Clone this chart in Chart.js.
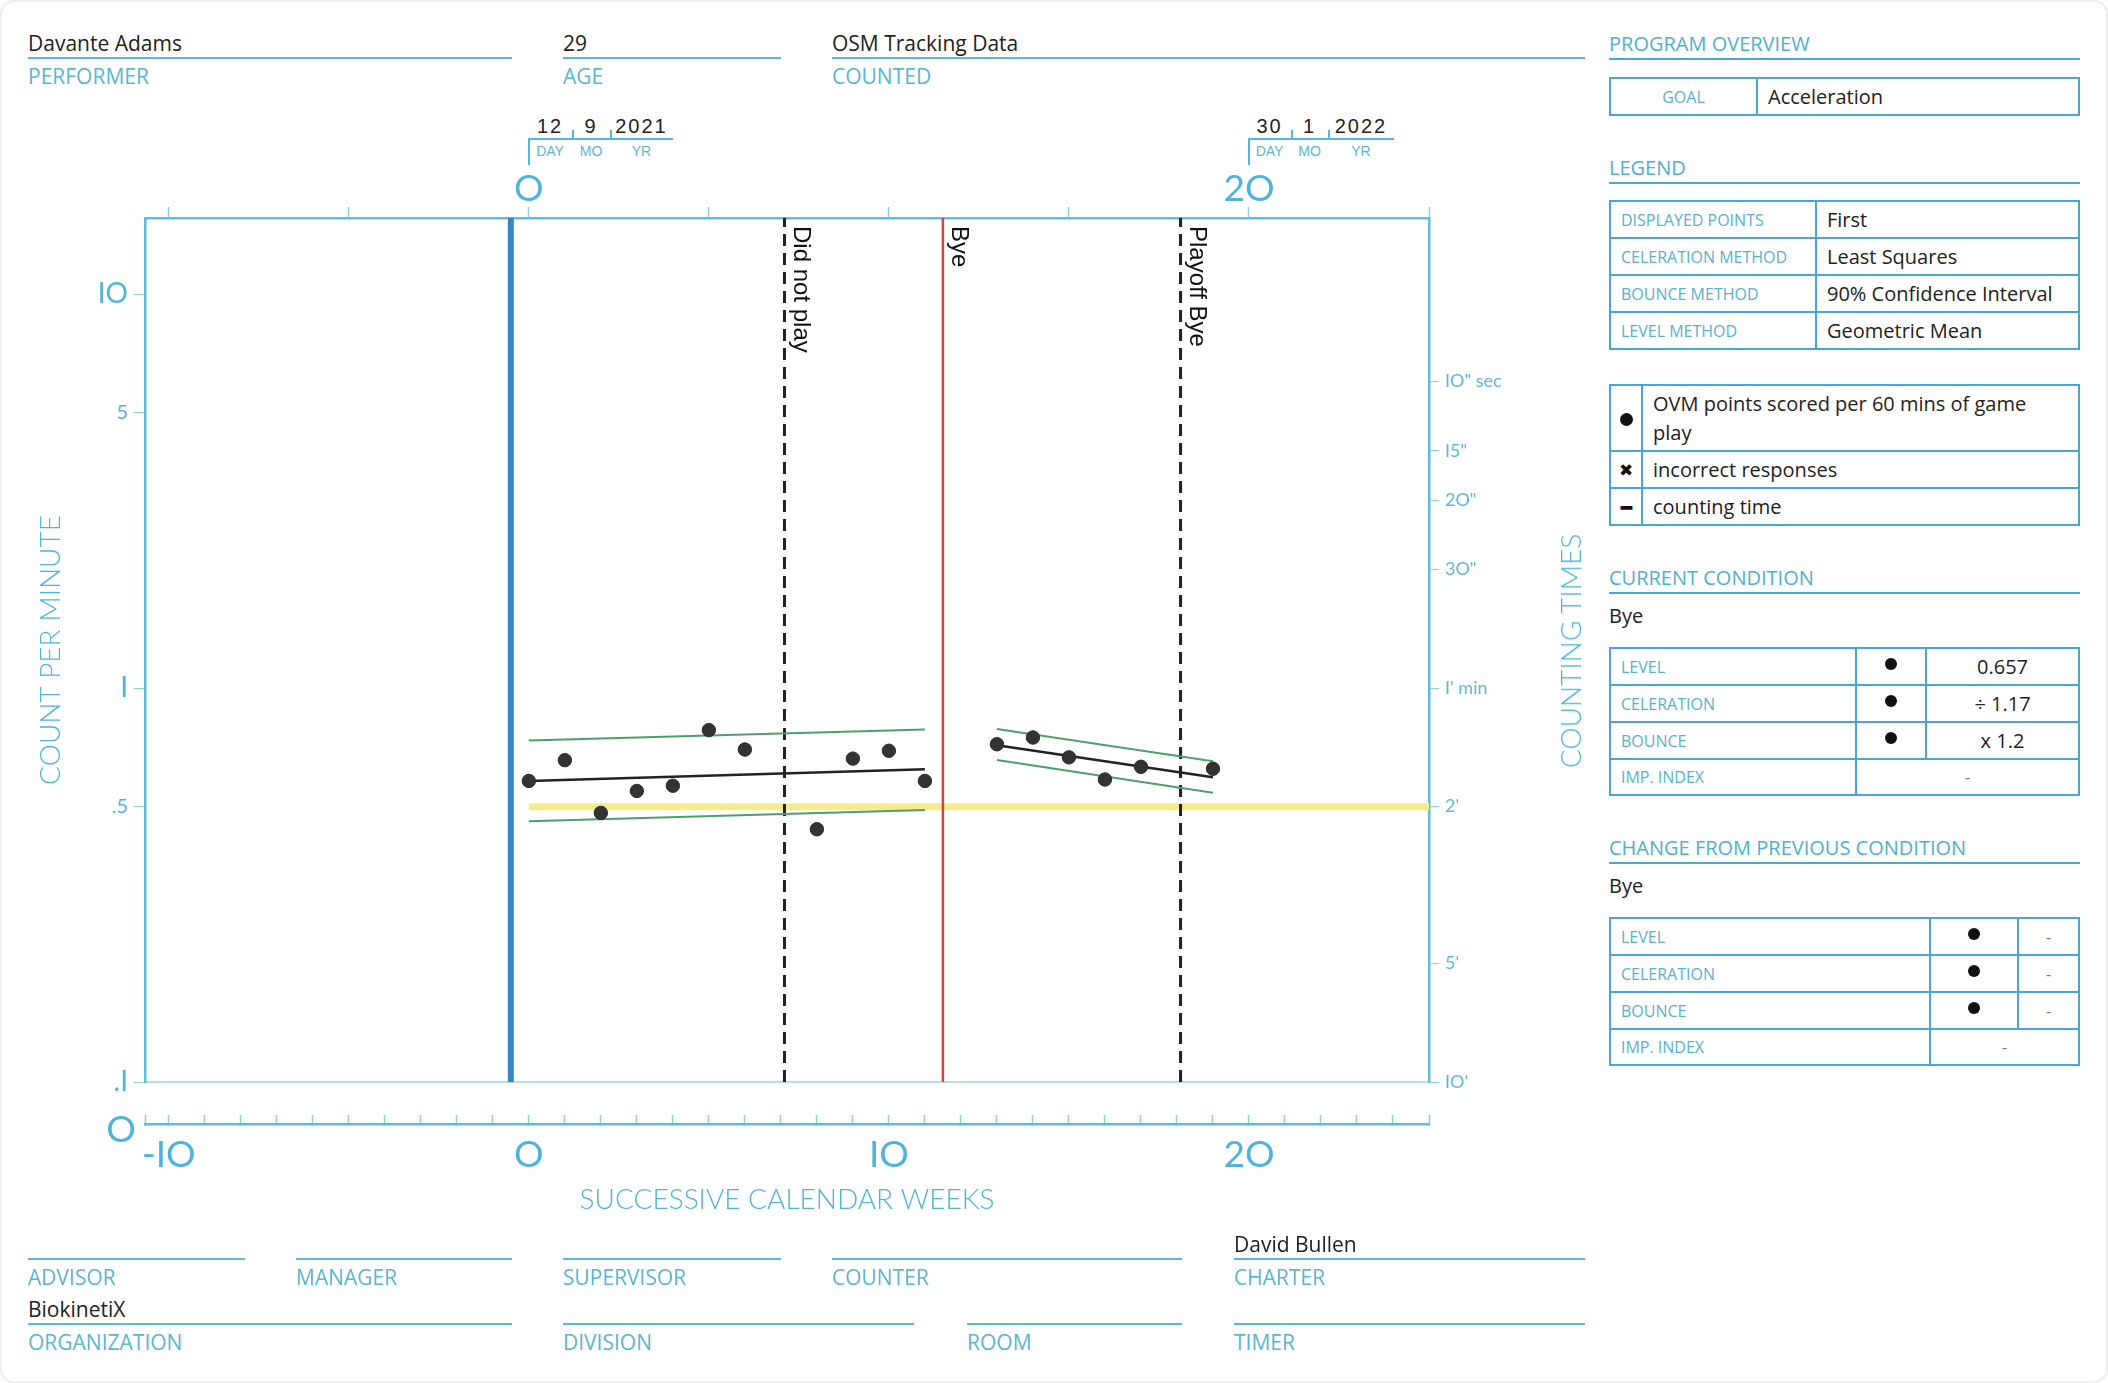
<!DOCTYPE html>
<html>
<head>
<meta charset="utf-8">
<script src="https://cdn.jsdelivr.net/npm/chart.js@4.4.1/dist/chart.umd.min.js"></script>
<style>
  body { margin:0; width:2108px; height:1383px; background:#fff; position:relative; overflow:hidden; font-family:'Open Sans', sans-serif; }
  .frame { position:absolute; left:0; top:0; width:2104px; height:1379px; border:2px solid #efefef; border-radius:14px; }
  .field { position:absolute; }
  .field .val { height:28px; line-height:28px; font-size:21px; color:#222; border-bottom:2px solid #5ab8d8; white-space:nowrap; }
  .field .lab { margin-top:3px; line-height:28px; font-size:21px; color:#5ab6d2; }
  .head { position:absolute; left:1609px; width:471px; height:28px; line-height:28px; font-size:20px; color:#4fb0d0; border-bottom:2px solid #4aa8d6; }
  .bye { position:absolute; left:1609px; font-size:20px; line-height:28px; color:#222; }
  table.box { position:absolute; left:1609px; width:471px; border-collapse:collapse; table-layout:fixed; }
  table.box td { border:2px solid #4aa5d6; padding:0 10px; font-size:20px; color:#222; white-space:nowrap; }
  table.box td.k { font-size:16px; color:#58b2cf; }
  table.box td.c { text-align:center; }
  table.box td.sym { text-align:center; padding:0; color:#111; }
  table.box td.dot { text-align:center; vertical-align:top; padding-top:9px; line-height:0; }
  table.box td.dash { text-align:center; color:#777; font-size:16px; }
  .pt { display:inline-block; width:12px; height:12px; border-radius:50%; background:#111; }
  .date { position:absolute; display:flex; }
  .date::after { content:''; position:absolute; left:0; top:24px; width:2px; height:27px; background:#5ab6d8; }
  .date .cell { position:relative; }
  .date .cell.sep::before { content:''; position:absolute; left:0; top:16px; width:2px; height:9px; background:#5ab6d8; }
  .date .num { height:24px; line-height:24px; font-family:'Liberation Sans', Arial, sans-serif; font-size:20px; letter-spacing:2px; text-align:center; color:#222; }
  .date .unit { border-top:2px solid #5ab6d8; font-family:'Liberation Sans', Arial, sans-serif; font-size:14px; line-height:22px; text-align:center; color:#5ab6d8; }
  .axisword { position:absolute; font-family:Lato, sans-serif; font-weight:300; color:#4fb4da; white-space:nowrap; }
  #chart { position:absolute; left:0; top:150px; }
</style>
</head>
<body>
<div class="frame"></div>

<div class="field" style="left:28px;top:29px;width:484px"><div class="val">Davante Adams</div><div class="lab">PERFORMER</div></div>
<div class="field" style="left:563px;top:29px;width:218px"><div class="val">29</div><div class="lab">AGE</div></div>
<div class="field" style="left:832px;top:29px;width:753px"><div class="val">OSM Tracking Data</div><div class="lab">COUNTED</div></div>

<div class="date" style="left:528px;top:114px">
  <div class="cell" style="width:44px"><div class="num">12</div><div class="unit">DAY</div></div>
  <div class="cell sep" style="width:38px"><div class="num">9</div><div class="unit">MO</div></div>
  <div class="cell sep" style="width:63px"><div class="num">2021</div><div class="unit">YR</div></div>
</div>
<div class="date" style="left:1248px;top:114px">
  <div class="cell" style="width:43px"><div class="num">30</div><div class="unit">DAY</div></div>
  <div class="cell sep" style="width:37px"><div class="num">1</div><div class="unit">MO</div></div>
  <div class="cell sep" style="width:66px"><div class="num">2022</div><div class="unit">YR</div></div>
</div>

<canvas id="chart" width="1600" height="1084"></canvas>

<div class="axisword" style="left:1570px;top:651px;font-size:28px;transform:translate(-50%,-50%) rotate(-90deg)">COUNTING TIMES</div>
<div class="axisword" style="left:121px;top:1127px;font-size:37px;font-weight:400;transform:translate(-50%,-50%)">O</div>

<div class="head" style="top:30px">PROGRAM OVERVIEW</div>
<table class="box" style="top:77px">
  <colgroup><col style="width:147px"><col></colgroup>
  <tr style="height:37px"><td class="k c">GOAL</td><td>Acceleration</td></tr>
</table>

<div class="head" style="top:154px">LEGEND</div>
<table class="box" style="top:200px">
  <colgroup><col style="width:206px"><col></colgroup>
  <tr style="height:37px"><td class="k">DISPLAYED POINTS</td><td>First</td></tr>
  <tr style="height:37px"><td class="k">CELERATION METHOD</td><td>Least Squares</td></tr>
  <tr style="height:37px"><td class="k">BOUNCE METHOD</td><td>90% Confidence Interval</td></tr>
  <tr style="height:37px"><td class="k">LEVEL METHOD</td><td>Geometric Mean</td></tr>
</table>

<table class="box" style="top:384px">
  <colgroup><col style="width:32px"><col></colgroup>
  <tr style="height:66px"><td class="sym"><span class="pt" style="width:13px;height:13px"></span></td><td style="line-height:29px">OVM points scored per 60 mins of game<br>play</td></tr>
  <tr style="height:37px"><td class="sym" style="font-size:17px">&#10006;</td><td>incorrect responses</td></tr>
  <tr style="height:37px"><td class="sym" style="font-size:18px;font-weight:bold">&#9473;</td><td>counting time</td></tr>
</table>

<div class="head" style="top:564px">CURRENT CONDITION</div>
<div class="bye" style="top:602px">Bye</div>
<table class="box" style="top:647px">
  <colgroup><col style="width:246px"><col style="width:70px"><col></colgroup>
  <tr style="height:37px"><td class="k">LEVEL</td><td class="dot"><span class="pt"></span></td><td class="c">0.657</td></tr>
  <tr style="height:37px"><td class="k">CELERATION</td><td class="dot"><span class="pt"></span></td><td class="c">&divide; 1.17</td></tr>
  <tr style="height:37px"><td class="k">BOUNCE</td><td class="dot"><span class="pt"></span></td><td class="c">x 1.2</td></tr>
  <tr style="height:36px"><td class="k">IMP. INDEX</td><td class="dash" colspan="2">-</td></tr>
</table>

<div class="head" style="top:834px">CHANGE FROM PREVIOUS CONDITION</div>
<div class="bye" style="top:872px">Bye</div>
<table class="box" style="top:917px">
  <colgroup><col style="width:320px"><col style="width:88px"><col></colgroup>
  <tr style="height:37px"><td class="k">LEVEL</td><td class="dot"><span class="pt"></span></td><td class="dash">-</td></tr>
  <tr style="height:37px"><td class="k">CELERATION</td><td class="dot"><span class="pt"></span></td><td class="dash">-</td></tr>
  <tr style="height:37px"><td class="k">BOUNCE</td><td class="dot"><span class="pt"></span></td><td class="dash">-</td></tr>
  <tr style="height:36px"><td class="k">IMP. INDEX</td><td class="dash" colspan="2">-</td></tr>
</table>

<div class="field" style="left:28px;top:1230px;width:217px"><div class="val"></div><div class="lab">ADVISOR</div></div>
<div class="field" style="left:296px;top:1230px;width:216px"><div class="val"></div><div class="lab">MANAGER</div></div>
<div class="field" style="left:563px;top:1230px;width:218px"><div class="val"></div><div class="lab">SUPERVISOR</div></div>
<div class="field" style="left:832px;top:1230px;width:350px"><div class="val"></div><div class="lab">COUNTER</div></div>
<div class="field" style="left:1234px;top:1230px;width:351px"><div class="val">David Bullen</div><div class="lab">CHARTER</div></div>
<div class="field" style="left:28px;top:1295px;width:484px"><div class="val">BiokinetiX</div><div class="lab">ORGANIZATION</div></div>
<div class="field" style="left:563px;top:1295px;width:351px"><div class="val"></div><div class="lab">DIVISION</div></div>
<div class="field" style="left:967px;top:1295px;width:215px"><div class="val"></div><div class="lab">ROOM</div></div>
<div class="field" style="left:1234px;top:1295px;width:351px"><div class="val"></div><div class="lab">TIMER</div></div>

<script>
// weekly counts (count per minute)
const phase1Weeks = [0, 1, 2, 3, 4, 5, 6, 8, 9, 10, 11];
const phase1Counts = [0.581, 0.656, 0.482, 0.548, 0.565, 0.782, 0.698, 0.438, 0.662, 0.693, 0.581];
const phase2Weeks = [13, 14, 15, 16, 17, 19];
const phase2Counts = [0.720, 0.749, 0.667, 0.586, 0.631, 0.624];

// celeration + bounce lines (start / end of each phase)
const phase1LineWeeks = [0, 11];
const phase1Celeration = [0.581, 0.622];
const phase1Upper = [0.736, 0.785];
const phase1Lower = [0.459, 0.490];
const phase2LineWeeks = [13, 19];
const phase2Celeration = [0.716, 0.594];
const phase2Upper = [0.787, 0.652];
const phase2Lower = [0.657, 0.542];

// counting time floor (2 min)
const countingTimeWeeks = [0, 25];
const countingTime = [0.5, 0.5];

// phase change lines
const eventWeeks = [-0.5, 7.1, 11.5, 18.1];
const eventLabels = ['', 'Did not play', 'Bye', 'Playoff Bye'];

const weekMin = -10.66;
const weekMax = 25;
const countMin = 0.1;
const countMax = 15.6;

const countTicks = [0.1, 0.5, 1, 5, 10];
const countTickLabels = ['.I', '.5', 'I', '5', 'IO'];
const timeTicks = [0.1, 0.2, 0.5, 1, 2, 3, 4, 6];
const timeTickLabels = ["IO'", "5'", "2'", "I' min", '3O"', '2O"', 'I5"', 'IO" sec'];
const weekTicks = [-10, -9, -8, -7, -6, -5, -4, -3, -2, -1, 0, 1, 2, 3, 4, 5, 6, 7, 8, 9, 10, 11, 12, 13, 14, 15, 16, 17, 18, 19, 20, 21, 22, 23, 24, 25];
const weekLabelValues = [-10, 0, 10, 20];
const weekLabelTexts = ['-IO', 'O', 'IO', '2O'];
const topTicks = [-10, -5, 0, 5, 10, 15, 20, 25];
const topLabelValues = [0, 20];
const topLabelTexts = ['O', '2O'];

const blue = '#4fb4da';
const axisLine = '#62bcdc';
const tickLine = '#8fcfe3';

const pts = (xs, ys) => xs.map((x, i) => ({x: x, y: ys[i]}));

const eventStyles = [
  {color: '#3a86c4', width: 6, dash: []},
  {color: '#222', width: 3, dash: [12, 7]},
  {color: '#d8413d', width: 2.5, dash: []},
  {color: '#222', width: 3, dash: [12, 7]}
];

const lineSet = (data, color, width, order, dash) => ({
  data: data, showLine: true, pointRadius: 0, borderColor: color,
  borderWidth: width, borderDash: dash || [], order: order, fill: false
});

const datasets = [
  lineSet(pts(countingTimeWeeks, countingTime), '#f6ec8e', 7, 9),
  lineSet(pts(phase1LineWeeks, phase1Upper), '#4f9e6e', 2, 4),
  lineSet(pts(phase1LineWeeks, phase1Lower), '#4f9e6e', 2, 4),
  lineSet(pts(phase2LineWeeks, phase2Upper), '#4f9e6e', 2, 4),
  lineSet(pts(phase2LineWeeks, phase2Lower), '#4f9e6e', 2, 4),
  lineSet(pts(phase1LineWeeks, phase1Celeration), '#222', 2.5, 2),
  lineSet(pts(phase2LineWeeks, phase2Celeration), '#222', 2.5, 2)
];
eventWeeks.forEach((w, i) => {
  datasets.push(lineSet(pts([w, w], [countMin, countMax]), eventStyles[i].color, eventStyles[i].width, 6, eventStyles[i].dash));
});
[pts(phase1Weeks, phase1Counts), pts(phase2Weeks, phase2Counts)].forEach(d => {
  datasets.push({data: d, pointRadius: 6.7, backgroundColor: '#333', borderColor: '#2a2a2a', borderWidth: 1, order: 0});
});

const eventLabelPlugin = {
  id: 'eventLabels',
  afterDatasetsDraw(chart) {
    const {ctx, chartArea, scales} = chart;
    ctx.save();
    ctx.font = '24px "Liberation Sans", Arial, sans-serif';
    ctx.fillStyle = '#111';
    ctx.textAlign = 'left';
    ctx.textBaseline = 'bottom';
    eventWeeks.forEach((w, i) => {
      if (!eventLabels[i]) return;
      const px = scales.x.getPixelForValue(w);
      ctx.save();
      ctx.translate(px + 4, chartArea.top + 8);
      ctx.rotate(Math.PI / 2);
      ctx.fillText(eventLabels[i], 0, 0);
      ctx.restore();
    });
    ctx.restore();
  }
};

const axisFont = (size, weight) => ({family: 'Lato', weight: weight || 400, size: size});
const pick = (values, texts) => v => {
  const i = values.indexOf(v);
  return i >= 0 ? texts[i] : '';
};

new Chart(document.getElementById('chart'), {
  type: 'scatter',
  data: {datasets: datasets},
  plugins: [eventLabelPlugin],
  options: {
    responsive: false,
    animation: false,
    layout: {padding: 0},
    plugins: {legend: {display: false}, tooltip: {enabled: false}},
    scales: {
      x: {
        type: 'linear', position: 'bottom', min: weekMin, max: weekMax, weight: 0,
        ticks: {display: false},
        grid: {drawOnChartArea: false, drawTicks: false},
        border: {color: '#b5e0ea', width: 2},
        afterFit: s => { s.height = 42; }
      },
      xw: {
        type: 'linear', position: 'bottom', min: weekMin, max: weekMax, weight: 1,
        afterBuildTicks: s => { s.ticks = [weekMin].concat(weekTicks).map(v => ({value: v})); },
        ticks: {autoSkip: false, maxRotation: 0, padding: 18, color: blue, font: axisFont(37),
          callback: pick(weekLabelValues, weekLabelTexts)},
        grid: {drawOnChartArea: false, tickLength: -9, color: tickLine, tickWidth: 1.5},
        border: {color: axisLine, width: 2.5},
        title: {display: true, text: 'SUCCESSIVE CALENDAR WEEKS', color: blue, font: axisFont(28, 300), padding: {bottom: 17}},
        afterFit: s => { s.height = 110; }
      },
      x2: {
        type: 'linear', position: 'top', min: weekMin, max: weekMax,
        afterBuildTicks: s => { s.ticks = topTicks.map(v => ({value: v})); },
        ticks: {autoSkip: false, maxRotation: 0, padding: -4, color: blue, font: axisFont(37),
          callback: pick(topLabelValues, topLabelTexts)},
        grid: {drawOnChartArea: false, tickLength: 11, color: tickLine, tickWidth: 1.5},
        border: {color: axisLine, width: 2.5},
        afterFit: s => { s.height = 68; }
      },
      y: {
        type: 'logarithmic', position: 'left', min: countMin, max: countMax,
        afterBuildTicks: s => { s.ticks = countTicks.map(v => ({value: v})); },
        ticks: {autoSkip: false, padding: 6, color: blue,
          font: c => axisFont(c.tick && (c.tick.value === 5 || c.tick.value === 0.5) ? 20 : 28),
          callback: pick(countTicks, countTickLabels)},
        grid: {drawOnChartArea: false, tickLength: 11, color: tickLine},
        border: {color: axisLine, width: 2.5},
        title: {display: true, text: 'COUNT PER MINUTE', color: blue, font: axisFont(28, 300), padding: {top: 34}},
        afterFit: s => { s.width = 145; }
      },
      y2: {
        type: 'logarithmic', position: 'right', min: countMin, max: countMax,
        afterBuildTicks: s => { s.ticks = timeTicks.map(v => ({value: v})); },
        ticks: {autoSkip: false, padding: 6, color: '#5cb9dc', font: axisFont(18),
          callback: pick(timeTicks, timeTickLabels)},
        grid: {drawOnChartArea: false, tickLength: 10, color: tickLine},
        border: {color: axisLine, width: 2.5},
        afterFit: s => { s.width = 171; }
      }
    }
  }
});
</script>
</body>
</html>
